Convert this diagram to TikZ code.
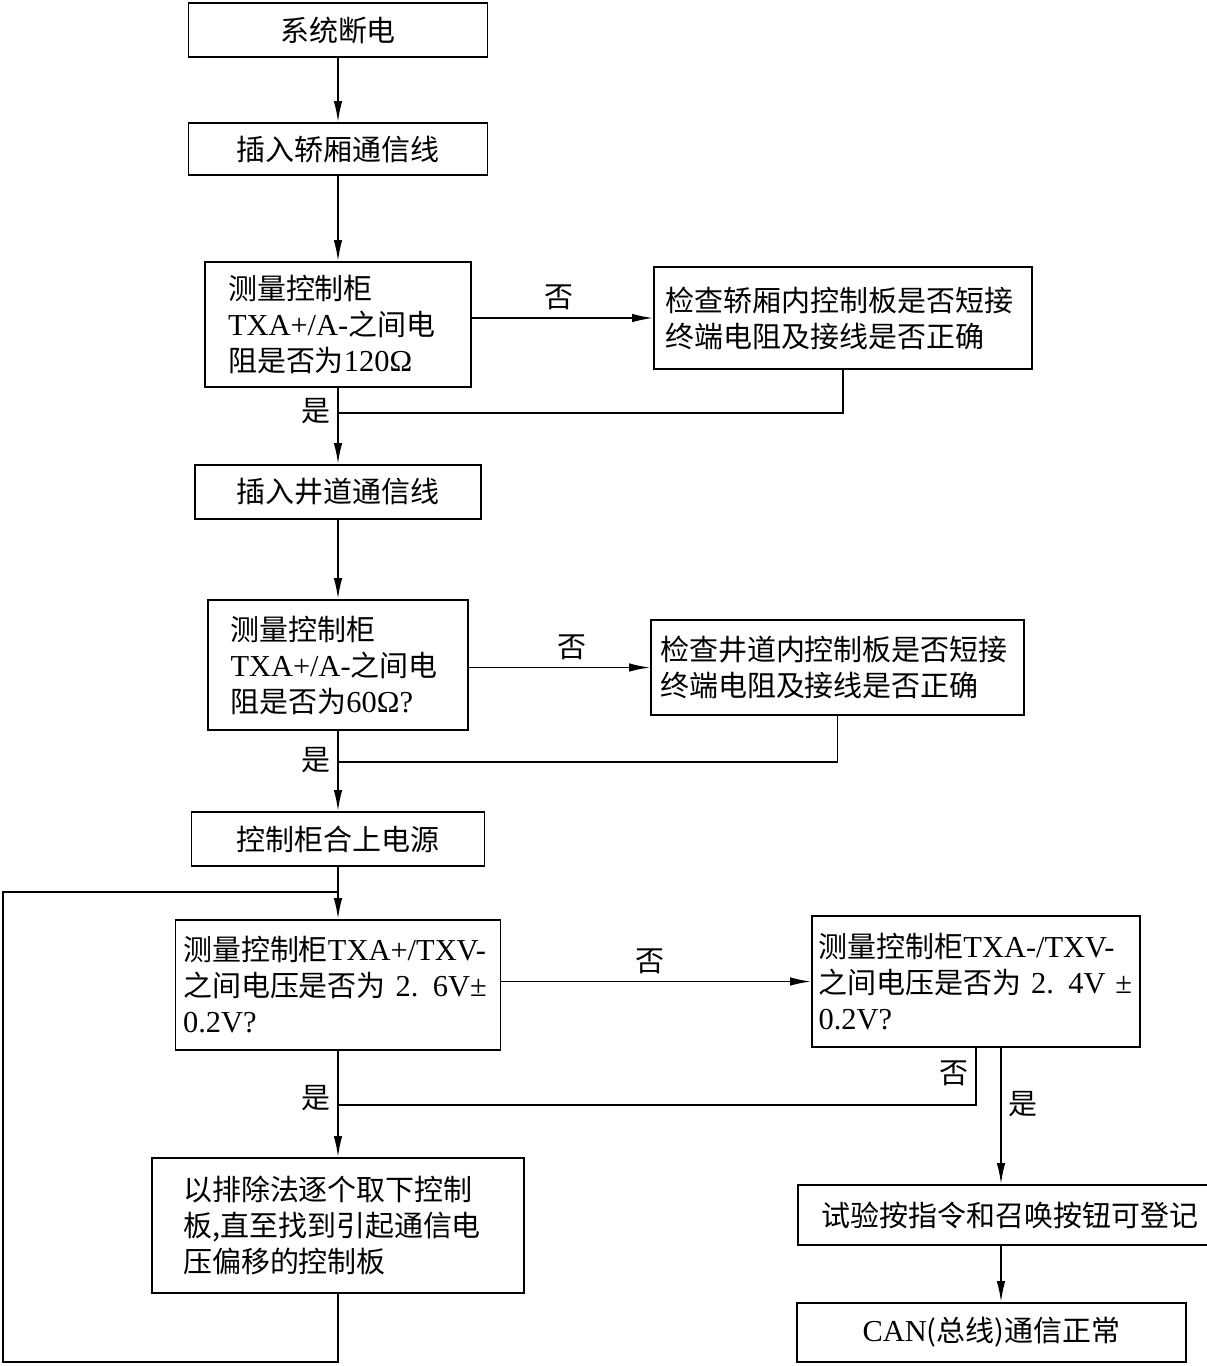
\documentclass[tikz,border=0pt]{standalone}
\usepackage{fontspec}
\setmainfont{Noto Sans CJK SC}
\newfontfamily\lat[Scale=1.05]{Liberation Serif}
\usetikzlibrary{arrows.meta, positioning}

\begin{document}
\begin{tikzpicture}[
    x=0.02cm, y=-0.02cm,
    every node/.style={font=\fontsize{16.5}{20.5}\selectfont},
    box/.style={draw, line width=1pt, inner sep=0pt, align=center},
    query/.style={box, align=left},
    arr/.style={-{Latex[length=4.2mm, width=1.7mm]}, line width=1pt},
    wire/.style={line width=1pt},
    lbl/.style={inner sep=4pt}
]
    \useasboundingbox (0,0) rectangle (1207,1366);

    % Main column
    \node[box, minimum width=5.98cm, minimum height=1.08cm] (off) at (338,30) {系统断电};
    \node[box, minimum width=5.98cm, minimum height=1.04cm] (carline) at (338,149) {插入轿厢通信线};
    \node[query, minimum width=5.32cm, minimum height=2.5cm, text width=4.4cm] (chkcar) at (338,324.5)
        {测量控制柜\\ {\lat TXA+/A-}之间电\\ 阻是否为{\lat 120Ω}};
    \node[box, minimum width=5.72cm, minimum height=1.08cm] (shaftline) at (338,492) {插入井道通信线};
    \node[query, minimum width=5.2cm, minimum height=2.6cm, text width=4.3cm] (chkshaft) at (338,665)
        {测量控制柜\\ {\lat TXA+/A-}之间电\\ 阻是否为{\lat 60Ω?}};
    \node[box, minimum width=5.86cm, minimum height=1.08cm] (power) at (338,839) {控制柜合上电源};
    \node[query, minimum width=6.5cm, minimum height=2.6cm, text width=6.2cm] (chkplus) at (338,985)
        {测量控制柜{\lat TXA+/TXV-}\\ 之间电压是否为 {\lat 2. 6V±}\\ {\lat 0.2V?}};
    \node[query, minimum width=7.44cm, minimum height=2.7cm, text width=6.2cm] (remove) at (338,1225.5)
        {以排除法逐个取下控制\\ 板,直至找到引起通信电\\ 压偏移的控制板};

    % Right column
    \node[query, minimum width=7.56cm, minimum height=2.04cm, text width=7.1cm] (fixcar) at (843,318)
        {检查轿厢内控制板是否短接\\ 终端电阻及接线是否正确};
    \node[query, minimum width=7.46cm, minimum height=1.9cm, text width=7.1cm] (fixshaft) at (837.5,667.5)
        {检查井道内控制板是否短接\\ 终端电阻及接线是否正确};
    \node[query, minimum width=6.56cm, minimum height=2.62cm, text width=6.3cm] (chkminus) at (976,981.5)
        {测量控制柜{\lat TXA-/TXV-}\\ 之间电压是否为 {\lat 2. 4V ±}\\ {\lat 0.2V?}};
    \node[box, minimum width=8.48cm, minimum height=1.2cm] (register) at (1010,1215) {试验按指令和召唤按钮可登记};
    \node[box, minimum width=7.78cm, minimum height=1.18cm] (canok) at (991.5,1332.5) {{\lat CAN}(总线)通信正常};

    % Junctions
    \coordinate (j1) at (338,413);
    \coordinate (j2) at (338,762);
    \coordinate (j0) at (338,892);
    \coordinate (j3) at (338,1105);
    \coordinate (lb) at (3,1362);
    \coordinate (lt) at (3,892);
    \coordinate (col) at (1001,0);

    % Arrows
    \draw[arr] (off) -- (carline);
    \draw[arr] (carline) -- (chkcar);
    \draw[arr] (chkcar.east |- fixcar.west) -- node[lbl, above, pos=0.48] {否} (fixcar.west);
    \draw[arr] (chkcar) -- node[lbl, left, pos=0.3] {是} (shaftline);
    \draw[wire] (fixcar.south) |- (j1);

    \draw[arr] (shaftline) -- (chkshaft);
    \draw[arr] (chkshaft.east |- fixshaft.west) -- node[lbl, above, pos=0.57] {否} (fixshaft.west);
    \draw[arr] (chkshaft) -- node[lbl, left, pos=0.37] {是} (power);
    \draw[wire] (fixshaft.south) |- (j2);

    \draw[arr] (power) -- (chkplus);
    \draw[arr] (chkplus.east |- chkminus.west) -- node[lbl, above, pos=0.48] {否} (chkminus.west);
    \draw[arr] (chkplus) -- node[lbl, left, pos=0.44] {是} (remove);
    \draw[wire] (chkminus.south) |- node[lbl, left, pos=0.22] {否} (j3);
    \draw[arr] (chkminus.south -| col) -- node[lbl, right, pos=0.41] {是} (register.north -| col);
    \draw[arr] (register.south -| col) -- (canok.north -| col);

    % Loop back
    \draw[wire] (remove.south) |- (lb) -- (lt) -- (j0);

\end{tikzpicture}
\end{document}
